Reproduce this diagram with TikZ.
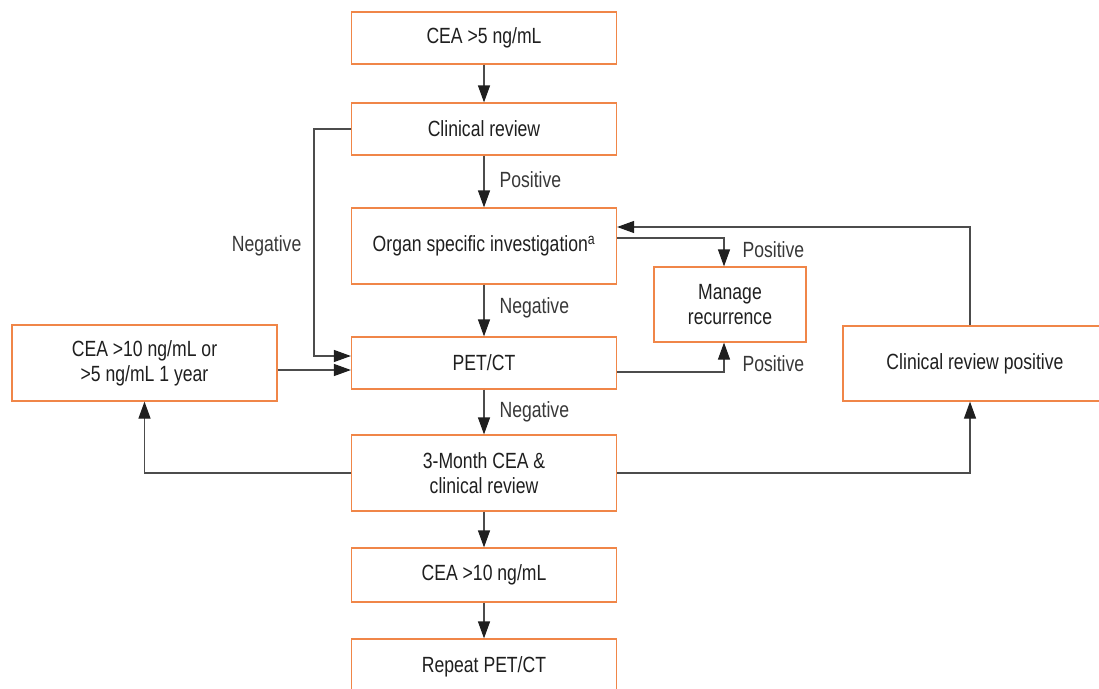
\documentclass[tikz,border=0pt]{standalone}
\usepackage{fontspec}
\setmainfont{Liberation Sans}[FakeStretch=0.8]
\usetikzlibrary{arrows.meta}
\definecolor{boxorange}{RGB}{240,134,72}
\begin{document}
\begin{tikzpicture}[x=1pt, y=-1pt,
		cbox/.style={shape=rectangle, draw=boxorange, line width=1.2pt, minimum width=265pt, minimum height=52pt, inner sep=0pt, align=center, text=black!88, font=\fontsize{22}{25}\selectfont},
		flow/.style={-{Triangle[length=17pt, width=12pt, color=black!88]}, line width=1.2pt, draw=black!70},
		lbl/.style={text=black!78, font=\fontsize{22}{25}\selectfont, inner sep=0pt}]
			\useasboundingbox (0,0) rectangle (1099,688);
			%Main column:
			\path
				(484, 38) node[cbox] (cea5) {CEA >5 ng/mL}
				(484, 129) node[cbox] (review) {Clinical review}
				(484, 246) node[cbox, minimum height=76pt] (organ) {Organ specific investigation\textsuperscript{a}}
				(484, 363) node[cbox] (pet) {PET/CT}
				(484, 473) node[cbox, minimum height=76pt] (month) {3-Month CEA \&\\clinical review}
				(484, 575) node[cbox, minimum height=54pt] (cea10) {CEA >10 ng/mL}
				(484, 667) node[cbox, minimum height=56pt] (repeat) {Repeat PET/CT};
			%Side boxes:
			\path
				(144.5, 363) node[cbox, minimum height=76pt] (year) {CEA >10 ng/mL or\\>5 ng/mL 1 year}
				(730, 304.5) node[cbox, minimum width=152pt, minimum height=75pt] (manage) {Manage\\recurrence}
				(975, 363.5) node[cbox, minimum width=264pt, minimum height=75pt] (crpos) {Clinical review positive};
			%Down the column:
			\draw[flow] (cea5) -- (review);
			\draw[flow] (review) -- node[pos=0.47, right=15pt, lbl] {Positive} (organ);
			\draw[flow] (organ) -- node[pos=0.45, right=15pt, lbl] {Negative} (pet);
			\draw[flow] (pet) -- node[right=15pt, lbl] {Negative} (month);
			\draw[flow] (month) -- (cea10);
			\draw[flow] (cea10) -- (repeat);
			%Into PET/CT:
			\draw[flow] (review.west) -- ++(-37,0) |- node[pos=0.258, left=12pt, lbl] {Negative} ([yshift=7pt]pet.west);
			\draw[flow] ([yshift=-7pt]year.east) -- ([yshift=-7pt]pet.west);
			%Recurrence:
			\draw[flow] ([yshift=8pt]organ.east) -| node[pos=0.71, right=18pt, lbl] {Positive} ([xshift=-6pt]manage.north);
			\draw[flow] ([yshift=-9pt]pet.east) -| node[pos=0.65, right=18pt, lbl] {Positive} ([xshift=-6pt]manage.south);
			\draw[flow] ([xshift=-5pt]crpos.north) |- ([yshift=19pt]organ.east);
			%Out of the 3-month review:
			\draw[flow] (month.west) -| (year.south);
			\draw[flow] (month.east) -| ([xshift=-5pt]crpos.south);
			\end{tikzpicture}
\end{document}
